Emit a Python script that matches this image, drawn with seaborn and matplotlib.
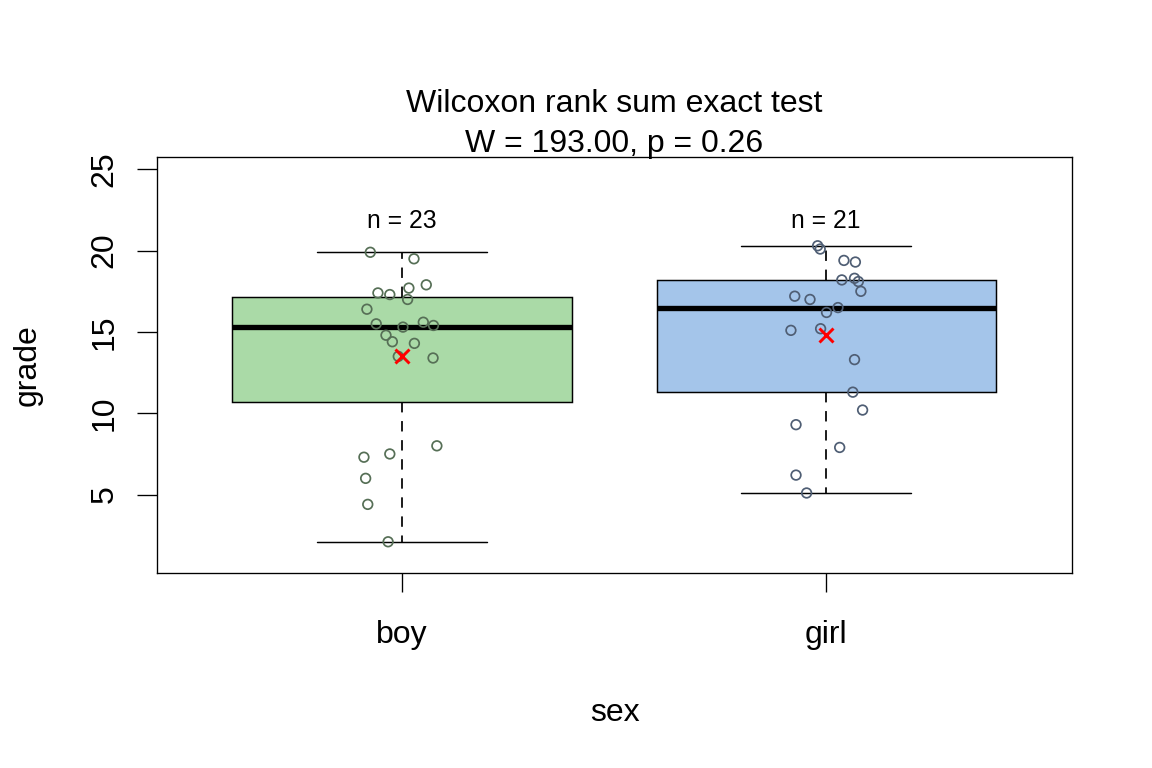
import numpy as np
import pandas as pd
import matplotlib
matplotlib.use("Agg")
import matplotlib.pyplot as plt
import seaborn as sns

# ---- data ----
categories = ["boy", "girl"]
boy_grades = [19.9, 19.5, 17.9, 17.7, 17.4, 17.3, 17.0, 16.4, 15.5, 15.6, 15.4, 15.3,
              14.8, 14.4, 14.3, 13.4, 13.5, 8.0, 7.5, 7.3, 6.0, 4.4, 2.1]
boy_jitter = [-0.075, 0.028, 0.057, 0.016, -0.057, -0.029, 0.013, -0.083, -0.061, 0.050,
              0.074, 0.002, -0.038, -0.023, 0.029, 0.073, -0.009, 0.082, -0.029, -0.090,
              -0.086, -0.081, -0.033]
girl_grades = [20.3, 20.1, 19.4, 19.3, 18.3, 18.2, 18.1, 17.5, 17.2, 17.0, 16.5, 16.2,
               15.1, 15.2, 13.3, 11.3, 10.2, 9.3, 7.9, 6.2, 5.1]
girl_jitter = [-0.020, -0.014, 0.042, 0.069, 0.067, 0.037, 0.076, 0.082, -0.074, -0.038,
               0.028, 0.001, -0.083, -0.013, 0.067, 0.063, 0.086, -0.071, 0.032, -0.071,
               -0.046]
title_lines = ["Wilcoxon rank sum exact test", "W = 193.00, p = 0.26"]
box_fill = {"boy": "#AADAA7", "girl": "#A4C5EA"}
point_edge = {"boy": "#566F56", "girl": "#4F5E74"}

df = pd.DataFrame({
    "sex": ["boy"] * len(boy_grades) + ["girl"] * len(girl_grades),
    "grade": boy_grades + girl_grades,
    "jitter": boy_jitter + girl_jitter,
})
df["xpos"] = df["sex"].map({c: i for i, c in enumerate(categories)}) + df["jitter"]

sns.set_theme(style="white")
plt.rcParams["font.family"] = ["Liberation Sans", "DejaVu Sans"]
plt.rcParams["text.color"] = "black"
plt.rcParams["axes.labelcolor"] = "black"

fig = plt.figure(figsize=(12, 8), dpi=96)
ax = fig.add_axes([0.1363, 0.2539, 0.7943, 0.5417])

sns.boxplot(data=df, x="sex", y="grade", hue="sex", order=categories,
            hue_order=categories, palette=box_fill, legend=False, saturation=1,
            width=0.8, linecolor="black", linewidth=1.1, whis=1.5, showfliers=False,
            whiskerprops=dict(linestyle=(0, (6, 5)), linewidth=1.3),
            medianprops=dict(linewidth=4.0, color="black"), ax=ax)

for cat in categories:
    sub = df[df["sex"] == cat]
    sns.scatterplot(data=sub, x="xpos", y="grade", color=point_edge[cat],
                    facecolor="none", edgecolor=point_edge[cat], s=52,
                    linewidth=1.3, zorder=3, ax=ax, legend=False)

sns.pointplot(data=df, x="sex", y="grade", order=categories, estimator="mean",
              errorbar=None, linestyle="none", marker="x", color="red",
              markersize=10, markeredgewidth=2.2, zorder=5, ax=ax)

# n labels
counts = df.groupby("sex")["grade"].size()
for i, cat in enumerate(categories):
    ax.text(i, 21.4, f"n = {counts[cat]}", ha="center", va="baseline",
            fontsize=18.5, color="black")

ax.set_xlim(-0.578, 1.58)
ax.set_ylim(0.18, 25.76)
ax.set_xticks(range(len(categories)))
ax.set_xticklabels(categories)
ax.set_yticks([5, 10, 15, 20, 25])

for sp in ax.spines.values():
    sp.set_visible(True)
    sp.set_color("black")
    sp.set_linewidth(1.0)

ax.tick_params(axis="x", direction="out", length=14, width=1.0, pad=21,
               labelsize=24, bottom=True, colors="black")
ax.tick_params(axis="y", direction="out", length=15, width=1.0, pad=13,
               labelsize=24, left=True, colors="black")
for lab in ax.get_yticklabels():
    lab.set_rotation(90)
    lab.set_va("center")

ax.set_xlabel("sex", fontsize=24, color="black")
ax.set_ylabel("grade", fontsize=24, color="black")
ax.xaxis.set_label_coords(0.5, -0.2995)
ax.yaxis.set_label_coords(-0.125, 0.5)

ax.text(0.5, 1.1089, title_lines[0], transform=ax.transAxes, ha="center",
        va="baseline", fontsize=24, color="black")
ax.text(0.5, 1.0127, title_lines[1], transform=ax.transAxes, ha="center",
        va="baseline", fontsize=24, color="black")

fig.savefig("out.png", dpi=96, facecolor="white")
